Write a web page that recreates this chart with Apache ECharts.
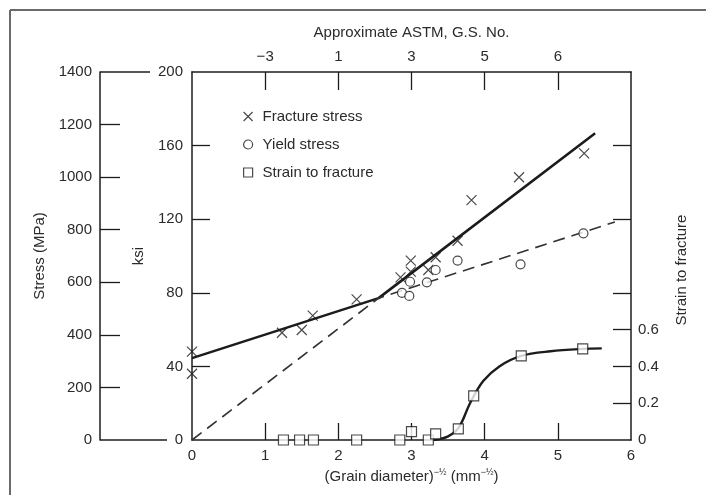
<!DOCTYPE html>
<html>
<head>
<meta charset="utf-8">
<script src="https://cdn.jsdelivr.net/npm/echarts@6/dist/echarts.min.js"></script>
<style>
  html, body { margin: 0; padding: 0; background: #fff; }
  #chart { width: 706px; height: 495px; }
</style>
</head>
<body>
<div id="chart"></div>
<script>
// fracture stress points, (grain diameter)^-1/2 vs ksi
const fractureX = [0, 0, 1.23, 1.5, 1.65, 2.25, 2.85, 2.99, 2.99, 3.23, 3.33, 3.63, 3.82, 4.47, 5.36]
const fractureKsi = [48, 36, 58.3, 59.8, 67.6, 76.4, 88.4, 97.5, 91.5, 92.4, 99.3, 108.3, 130.4, 142.8, 155.8]

// yield stress points
const yieldX = [2.87, 2.97, 2.98, 3.21, 3.33, 3.63, 4.49, 5.35]
const yieldKsi = [80, 78.3, 86, 85.7, 92.4, 97.5, 95.5, 112.3]

// strain to fracture points
const strainX = [1.25, 1.47, 1.66, 2.25, 2.84, 3.0, 3.23, 3.33, 3.64, 3.85, 4.5, 5.34]
const strainVal = [0, 0, 0, 0, 0, 0.045, 0, 0.033, 0.06, 0.24, 0.457, 0.495]

// fitted lines as drawn (solid = fracture, dashed = yield)
const fractureLineX = [0, 2.55, 5.51]
const fractureLineKsi = [44.5, 77.1, 166.7]
const yieldLineX = [0, 2.55, 5.78]
const yieldLineKsi = [0, 77.1, 118.5]

// strain curve as drawn
const strainCurveX = [3.3, 3.5, 3.65, 3.8, 3.98, 4.2, 4.5, 4.9, 5.34, 5.6]
const strainCurveVal = [0, 0.02, 0.07, 0.2, 0.32, 0.4, 0.457, 0.482, 0.495, 0.498]

// top axis: approximate ASTM grain size numbers
const astmPos = [1, 2, 3, 4, 5]
const astmLabels = ['\u22123', '1', '3', '5', '6']

const ksiTicks = [40, 80, 120, 160]
const mpaTicks = [200, 400, 600, 800, 1000, 1200]
const strainTicks = [0.2, 0.4, 0.6, 0.8, 1.2, 1.6]
const strainLabels = [0, 0.2, 0.4, 0.6]

const FONT = "'Liberation Sans', Arial, sans-serif"
const INK = '#1c1c1c'
const TXT = '#2b2b2b'
const MPA_OFFSET = 92

const zip = (xs, ys) => xs.map((x, i) => [x, ys[i]])

const crossPath = 'path://M0,0L10,10M10,0L0,10'

const chart = echarts.init(document.getElementById('chart'), null, { renderer: 'canvas' })

const axisLine = { show: true, onZero: false, lineStyle: { color: INK, width: 1.5 } }
const labelStyle = { color: TXT, fontSize: 15, fontFamily: FONT }

const option = {
  animation: false,
  backgroundColor: '#fff',
  textStyle: { fontFamily: FONT },
  grid: { left: 192, right: 75, top: 72, bottom: 55, containLabel: false },
  legend: {
    orient: 'vertical',
    left: 238,
    top: 104,
    itemGap: 13,
    itemWidth: 9,
    itemHeight: 9,
    textStyle: { color: TXT, fontSize: 15, fontFamily: FONT, padding: [0, 0, 0, 5] },
    data: [
      { name: 'Fracture stress', icon: crossPath, itemStyle: { color: 'rgba(0,0,0,0)', borderColor: INK, borderWidth: 1.2 } },
      { name: 'Yield stress', icon: 'circle', itemStyle: { color: '#fff', borderColor: INK, borderWidth: 1.2 } },
      { name: 'Strain to fracture', icon: 'rect', itemStyle: { color: '#fff', borderColor: INK, borderWidth: 1.2 } }
    ]
  },
  xAxis: [
    {
      type: 'value',
      position: 'bottom',
      min: 0,
      max: 6,
      interval: 1,
      name: '(Grain diameter){sup|\u2212\u00bd} (mm{sup|\u2212\u00bd})',
      nameLocation: 'middle',
      nameGap: 28,
      nameTextStyle: {
        color: TXT,
        fontSize: 15,
        fontFamily: FONT,
        rich: { sup: { fontSize: 9, color: TXT, fontFamily: FONT, padding: [0, 0, 9, 0] } }
      },
      axisLine,
      axisTick: { show: true, inside: true, length: 17, customValues: astmPos, lineStyle: { color: INK, width: 1.3 } },
      axisLabel: { ...labelStyle, margin: 8 },
      splitLine: { show: false }
    },
    {
      type: 'value',
      position: 'top',
      min: 0,
      max: 6,
      interval: 1,
      name: 'Approximate ASTM, G.S. No.',
      nameLocation: 'middle',
      nameGap: 32,
      nameTextStyle: { color: TXT, fontSize: 15, fontFamily: FONT },
      axisLine,
      axisTick: { show: true, inside: true, length: 18, customValues: astmPos, lineStyle: { color: INK, width: 1.3 } },
      axisLabel: {
        ...labelStyle,
        margin: 8,
        customValues: astmPos,
        formatter: v => astmLabels[astmPos.indexOf(v)] ?? ''
      },
      splitLine: { show: false }
    }
  ],
  yAxis: [
    {
      type: 'value',
      position: 'left',
      min: 0,
      max: 200,
      interval: 40,
      name: 'ksi',
      nameLocation: 'middle',
      nameGap: 46,
      nameRotate: 90,
      nameTextStyle: { color: TXT, fontSize: 15, fontFamily: FONT },
      axisLine,
      axisTick: { show: true, inside: true, length: 18, customValues: ksiTicks, lineStyle: { color: INK, width: 1.3 } },
      axisLabel: { ...labelStyle, margin: 9 },
      splitLine: { show: false }
    },
    {
      type: 'value',
      position: 'left',
      offset: MPA_OFFSET,
      min: 0,
      max: 1400,
      interval: 200,
      name: 'Stress (MPa)',
      nameLocation: 'middle',
      nameGap: 53,
      nameRotate: 90,
      nameTextStyle: { color: TXT, fontSize: 15, fontFamily: FONT },
      axisLine,
      axisTick: { show: true, inside: true, length: 20, customValues: mpaTicks, lineStyle: { color: INK, width: 1.3 } },
      axisLabel: { ...labelStyle, margin: 8, formatter: v => String(v) },
      splitLine: { show: false }
    },
    {
      type: 'value',
      position: 'right',
      min: 0,
      max: 2,
      interval: 0.2,
      name: 'Strain to fracture',
      nameLocation: 'middle',
      nameGap: 43,
      nameRotate: 90,
      nameTextStyle: { color: TXT, fontSize: 15, fontFamily: FONT, padding: [0, 28, 0, 0] },
      axisLine,
      axisTick: { show: true, inside: true, length: 18, customValues: strainTicks, lineStyle: { color: INK, width: 1.3 } },
      axisLabel: { ...labelStyle, margin: 7, customValues: strainLabels, formatter: v => (v === 0 ? '0' : v.toFixed(1)) },
      splitLine: { show: false }
    }
  ],
  series: [
    {
      name: 'fracture fit',
      type: 'line',
      xAxisIndex: 0,
      yAxisIndex: 0,
      data: zip(fractureLineX, fractureLineKsi),
      symbol: 'none',
      lineStyle: { color: INK, width: 2.6 },
      z: 3
    },
    {
      name: 'yield fit',
      type: 'line',
      xAxisIndex: 0,
      yAxisIndex: 0,
      data: zip(yieldLineX, yieldLineKsi),
      symbol: 'none',
      lineStyle: { color: '#333', width: 1.6, type: [12, 7] },
      z: 3
    },
    {
      name: 'strain curve',
      type: 'line',
      xAxisIndex: 0,
      yAxisIndex: 2,
      data: zip(strainCurveX, strainCurveVal),
      symbol: 'none',
      smooth: 0.35,
      lineStyle: { color: INK, width: 2.4 },
      z: 3
    },
    {
      name: 'Fracture stress',
      type: 'scatter',
      xAxisIndex: 0,
      yAxisIndex: 0,
      data: zip(fractureX, fractureKsi),
      symbol: crossPath,
      symbolSize: 10,
      itemStyle: { color: 'rgba(0,0,0,0)', borderColor: INK, borderWidth: 1.2 },
      z: 5
    },
    {
      name: 'Yield stress',
      type: 'scatter',
      xAxisIndex: 0,
      yAxisIndex: 0,
      data: zip(yieldX, yieldKsi),
      symbol: 'circle',
      symbolSize: 9,
      itemStyle: { color: '#fff', borderColor: INK, borderWidth: 1.2 },
      z: 5
    },
    {
      name: 'Strain to fracture',
      type: 'scatter',
      xAxisIndex: 0,
      yAxisIndex: 2,
      data: zip(strainX, strainVal),
      symbol: 'rect',
      symbolSize: 10,
      itemStyle: { color: '#fff', borderColor: INK, borderWidth: 1.2 },
      z: 5
    }
  ]
}

chart.setOption(option)

// frame of the scanned figure plus the short bracket lines joining the two stress scales
const drawExtras = () => {
  const x0 = chart.convertToPixel({ xAxisIndex: 0 }, 0)
  const mpaX = x0 - MPA_OFFSET
  const yTop = chart.convertToPixel({ yAxisIndex: 1 }, 1400)
  const yBot = chart.convertToPixel({ yAxisIndex: 1 }, 0)
  const line = (x1, y1, x2, y2, color, width) => ({
    type: 'line',
    shape: { x1, y1, x2, y2 },
    style: { stroke: color, lineWidth: width },
    silent: true
  })
  chart.setOption({
    graphic: [
      line(10, 10, 706, 10, '#6a6a6a', 2),
      line(10, 10, 10, 495, '#6a6a6a', 2),
      line(mpaX, yTop, mpaX + 50, yTop, INK, 1.5),
      line(mpaX, yBot, mpaX + 67, yBot, INK, 1.5)
    ]
  })
}

drawExtras()
</script>
</body>
</html>
